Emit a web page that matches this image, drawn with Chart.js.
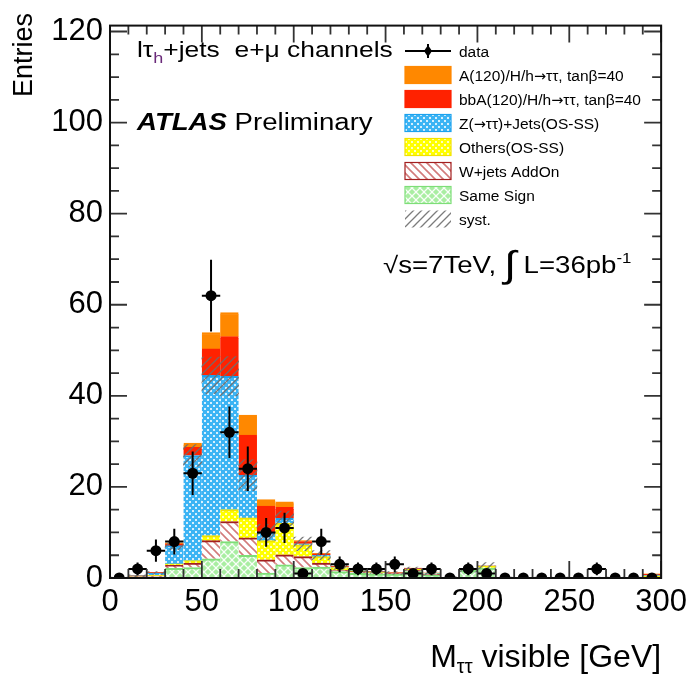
<!DOCTYPE html>
<html>
<head>
<meta charset="utf-8">
<script src="https://cdn.jsdelivr.net/npm/chart.js@4.4.0/dist/chart.umd.min.js"></script>
<style>
  html, body { margin: 0; padding: 0; background: #fff; }
</style>
</head>
<body>
<canvas id="mvisChart" width="693" height="677"></canvas>
<script>
const FONT = "'Liberation Sans', Arial, Helvetica, sans-serif";
const ARROW_FONT = "'DejaVu Sans', sans-serif";

// bin centres of the visible mass histogram [GeV], 10 GeV wide
const binCentres = [5, 15, 25, 35, 45, 55, 65, 75, 85, 95, 105, 115, 125, 135, 145,
  155, 165, 175, 185, 195, 205, 215, 225, 235, 245, 255, 265, 275, 285, 295];
const binHalfWidth = 5;

const dataCounts = [0, 2, 6, 8, 23, 62, 32, 24, 10, 11, 1, 8, 3, 2, 2,
  3, 1, 2, 0, 2, 1, 0, 0, 0, 0, 0, 2, 0, 0, 0];
const dataErrors = [0, 1.41, 2.45, 2.83, 4.8, 7.87, 5.66, 4.9, 3.16, 3.32, 1, 2.83, 1.73, 1.41, 1.41,
  1.73, 1, 1.41, 0, 1.41, 1, 0, 0, 0, 0, 0, 1.41, 0, 0, 0];

// stacked backgrounds + signal, bottom to top
const sameSign = [0, 0.2, 0.2, 2.1, 2.3, 4.2, 8.0, 5.0, 1.1, 2.9, 2.3, 2.4, 1.4, 1.0, 0.9,
  0.8, 1.4, 0.6, 0.1, 1.7, 2.2, 0.1, 0.1, 0.1, 0.1, 0.1, 0.1, 0.1, 0.1, 0.1];
const wjetsAddOn = [0, 0.1, 0.2, 0.7, 1.0, 4.0, 4.4, 3.8, 2.9, 2.2, 2.4, 0.9, 0.3, 0.4, 0.2,
  0.2, 0.3, 0.2, 0, 0, 0, 0, 0, 0, 0, 0, 0, 0, 0, 0.1];
const othersOsSs = [0.1, 0.1, 0.2, 0.3, 0.5, 1.1, 2.6, 4.4, 4.2, 6.9, 2.6, 1.4, 0.6, 0.2, 0.1,
  0.05, 0.2, 0.1, 0.05, 0.05, 0.4, 0, 0, 0, 0, 0, 0, 0, 0, 0.3];
const zTauTau = [0, 0.1, 0.5, 4.0, 23.1, 35.2, 29.3, 9.4, 1.8, 1.1, 0.2, 0.3, 0.1, 0.1, 0.15,
  0.05, 0.1, 0.1, 0, 0, 0, 0, 0, 0, 0, 0, 0, 0, 0, 0.1];
const bbAHiggs = [0, 0, 0.1, 0.4, 1.8, 5.8, 8.7, 8.8, 5.8, 2.4, 0.5, 0.3, 0.1, 0.15, 0.05,
  0.05, 0.15, 0.1, 0, 0.05, 0, 0, 0, 0, 0, 0, 0, 0, 0, 0.2];
const aHiggs = [0, 0, 0.05, 0.2, 0.9, 3.6, 5.3, 4.4, 1.4, 1.2, 0.2, 0.1, 0.1, 0.05, 0.05,
  0.05, 0.05, 0, 0, 0, 0, 0, 0, 0, 0, 0, 0, 0, 0, 0.1];

// systematic band around the background sum
const systLow = [0, 0.3, 0.8, 6.2, 24.5, 40.5, 40.0, 19.2, 8.2, 11.5, 6.0, 4.0, 1.9, 1.3, 1.0,
  0.8, 1.6, 0.7, 0, 1.3, 2.0, 0, 0, 0, 0, 0, 0, 0, 0, 0.4];
const systHigh = [0.2, 0.7, 1.4, 8.0, 29.3, 48.5, 48.6, 26.0, 11.8, 14.7, 9.0, 6.0, 2.9, 2.1, 1.7,
  1.4, 2.4, 1.3, 0.3, 2.3, 3.4, 0.2, 0.2, 0.2, 0.2, 0.2, 0.2, 0.2, 0.2, 0.8];

const xTickValues = [0, 50, 100, 150, 200, 250, 300];
const yTickValues = [0, 20, 40, 60, 80, 100, 120];
const xMinorStep = 10, xMajorStep = 50;
const yMinorStep = 5, yMajorStep = 20;

function makePattern(size, draw) {
  const c = document.createElement("canvas");
  c.width = size; c.height = size;
  const g = c.getContext("2d");
  draw(g, size);
  return g.createPattern(c, "repeat");
}

function diag(g, s, dir) {
  g.beginPath();
  if (dir === "down") {
    g.moveTo(0, 0); g.lineTo(s, s);
    g.moveTo(-1, s - 1); g.lineTo(1, s + 1);
    g.moveTo(s - 1, -1); g.lineTo(s + 1, 1);
  } else {
    g.moveTo(0, s); g.lineTo(s, 0);
    g.moveTo(-1, 1); g.lineTo(1, -1);
    g.moveTo(s - 1, s + 1); g.lineTo(s + 1, s - 1);
  }
  g.stroke();
}

const zPattern = makePattern(6, (g, s) => {
  g.fillStyle = "#3cb4f4"; g.fillRect(0, 0, s, s);
  g.fillStyle = "rgba(255,255,255,0.8)";
  g.fillRect(0, 0, 2, 2); g.fillRect(3, 3, 2, 2);
});
const othersPattern = makePattern(6, (g, s) => {
  g.fillStyle = "#ffff00"; g.fillRect(0, 0, s, s);
  g.fillStyle = "rgba(255,255,215,0.9)";
  g.fillRect(0, 0, 2, 2); g.fillRect(3, 3, 2, 2);
});
const ssPattern = makePattern(8, (g, s) => {
  g.fillStyle = "#a9eea2"; g.fillRect(0, 0, s, s);
  g.strokeStyle = "rgba(255,255,255,0.9)"; g.lineWidth = 1.3;
  diag(g, s, "down"); diag(g, s, "up");
});
const wjetsPattern = makePattern(8, (g, s) => {
  g.fillStyle = "#ffffff"; g.fillRect(0, 0, s, s);
  g.strokeStyle = "#d27b7b"; g.lineWidth = 1.6;
  diag(g, s, "down");
});
const systPattern = makePattern(8, (g, s) => {
  g.strokeStyle = "rgba(110,110,110,0.9)"; g.lineWidth = 1.3;
  diag(g, s, "up");
});

// every bar fills its whole 10 GeV bin; no side-by-side grouping
function stackSet(label, values, fill, edge) {
  return {
    type: "bar", label: label, data: values, xAxisID: "x", yAxisID: "y",
    grouped: false,
    backgroundColor: fill, borderColor: edge,
    borderWidth: { top: 2, left: 0, right: 0, bottom: 0 }, borderSkipped: false,
    barPercentage: 1, categoryPercentage: 1,
  };
}

// error bars of the data points, drawn just before the markers
const errorBars = {
  id: "errorBars",
  beforeDatasetDraw(chart, args) {
    if (args.index !== 0) return;
    const { ctx, scales: { xv, y } } = chart;
    ctx.save();
    ctx.strokeStyle = "#000";
    ctx.lineWidth = 2;
    binCentres.forEach((c, i) => {
      const py = y.getPixelForValue(dataCounts[i]);
      ctx.beginPath();
      ctx.moveTo(xv.getPixelForValue(c - binHalfWidth), py);
      ctx.lineTo(xv.getPixelForValue(c + binHalfWidth), py);
      if (dataErrors[i] > 0) {
        const px = xv.getPixelForValue(c);
        ctx.moveTo(px, y.getPixelForValue(dataCounts[i] - dataErrors[i]));
        ctx.lineTo(px, y.getPixelForValue(dataCounts[i] + dataErrors[i]));
      }
      ctx.stroke();
    });
    ctx.restore();
  },
};

// ROOT style frame with inward ticks on all four sides
const frameTicks = {
  id: "frameTicks",
  afterDatasetsDraw(chart) {
    const { ctx, chartArea: a, scales: { xv, y } } = chart;
    ctx.save();
    ctx.strokeStyle = "#333";
    ctx.lineWidth = 1.8;
    ctx.beginPath();
    for (let v = 0; v <= xv.max; v += xMinorStep) {
      const px = xv.getPixelForValue(v);
      const len = v % xMajorStep === 0 ? 17 : 9;
      ctx.moveTo(px, a.bottom); ctx.lineTo(px, a.bottom - len);
      ctx.moveTo(px, a.top); ctx.lineTo(px, a.top + len);
    }
    for (let v = 0; v <= 120; v += yMinorStep) {
      const py = y.getPixelForValue(v);
      const len = v % yMajorStep === 0 ? 17 : 9;
      ctx.moveTo(a.left, py); ctx.lineTo(a.left + len, py);
      ctx.moveTo(a.right, py); ctx.lineTo(a.right - len, py);
    }
    ctx.stroke();
    ctx.strokeStyle = "#111";
    ctx.lineWidth = 2;
    ctx.strokeRect(a.left, a.top, a.right - a.left, a.bottom - a.top);
    ctx.restore();
  },
};

function drawParts(ctx, parts, x, y, align, sx) {
  let total = 0;
  parts.forEach((p) => {
    ctx.font = `${p.style || ""} ${p.size}px ${p.family || FONT}`;
    p.w = ctx.measureText(p.t).width;
    total += p.w;
  });
  ctx.save();
  ctx.translate(x, y);
  ctx.scale(sx, 1);
  ctx.textBaseline = "alphabetic";
  ctx.textAlign = "left";
  let cx = align === "right" ? -total : 0;
  parts.forEach((p) => {
    ctx.font = `${p.style || ""} ${p.size}px ${p.family || FONT}`;
    ctx.fillStyle = p.color || "#000";
    ctx.fillText(p.t, cx, p.dy || 0);
    cx += p.w;
  });
  ctx.restore();
}

// split a legend label so the arrow comes from a font with a full-size glyph
function labelParts(text, size) {
  const parts = [];
  text.split("→").forEach((piece, i) => {
    if (i > 0) parts.push({ t: "→", size: size - 1, family: ARROW_FONT });
    if (piece) parts.push({ t: piece, size: size });
  });
  return parts;
}

const labelsAndLegend = {
  id: "labelsAndLegend",
  afterDraw(chart) {
    const ctx = chart.ctx;
    const a = chart.chartArea;

    // y axis title, ROOT puts it at the top end of the axis
    ctx.save();
    ctx.translate(25, 13);
    ctx.rotate(-Math.PI / 2);
    ctx.font = `27px ${FONT}`;
    ctx.fillStyle = "#000";
    ctx.textAlign = "right";
    ctx.textBaseline = "middle";
    ctx.fillText("Entries", 0, 0);
    ctx.restore();

    drawParts(ctx, [
      { t: "lτ", size: 22 }, { t: "h", size: 15, dy: 6, color: "#6a2a7a" },
      { t: "+jets  e+μ channels", size: 22 },
    ], 137, 57, "left", 1.2);
    drawParts(ctx, [
      { t: "ATLAS", size: 23, style: "italic bold" }, { t: " Preliminary", size: 23 },
    ], 137, 130, "left", 1.2);
    drawParts(ctx, [
      { t: "√s=7TeV, ", size: 23 }, { t: "∫", size: 37, dy: 4 },
      { t: " L=36pb", size: 23 }, { t: "-1", size: 14, dy: -10 },
    ], 383, 273, "left", 1.2);
    drawParts(ctx, [
      { t: "M", size: 32 }, { t: "ττ", size: 20, dy: 6 }, { t: " visible [GeV]", size: 32 },
    ], a.right, 667, "right", 1);

    // legend
    const ds = chart.data.datasets;
    const rows = [ds[0], ds[7], ds[6], ds[5], ds[4], ds[3], ds[2], ds[1]];
    const boxX = 405, boxW = 46, boxH = 17, textX = 459, rowTop = 51, rowStep = 24;
    ctx.save();
    rows.forEach((d, i) => {
      const cy = rowTop + i * rowStep;
      if (d.type === "scatter") {
        ctx.strokeStyle = "#000"; ctx.lineWidth = 2;
        ctx.beginPath();
        ctx.moveTo(boxX, cy); ctx.lineTo(boxX + boxW, cy);
        ctx.moveTo(boxX + boxW / 2, cy - 7); ctx.lineTo(boxX + boxW / 2, cy + 7);
        ctx.stroke();
        ctx.fillStyle = "#000";
        ctx.beginPath();
        ctx.moveTo(boxX + boxW / 2, cy - 6); ctx.lineTo(boxX + boxW / 2 + 4, cy);
        ctx.lineTo(boxX + boxW / 2, cy + 6); ctx.lineTo(boxX + boxW / 2 - 4, cy);
        ctx.closePath(); ctx.fill();
      } else {
        ctx.fillStyle = d.backgroundColor;
        ctx.fillRect(boxX, cy - boxH / 2, boxW, boxH);
        if (d.label !== "syst.") {
          ctx.strokeStyle = d.borderColor; ctx.lineWidth = 1.2;
          ctx.strokeRect(boxX, cy - boxH / 2, boxW, boxH);
        }
      }
      drawParts(ctx, labelParts(d.label, 15.5), textX, cy + 6, "left", 1);
    });
    ctx.restore();
  },
};

const ctx = document.getElementById("mvisChart").getContext("2d");

new Chart(ctx, {
  type: "bar",
  data: {
    labels: binCentres.map(String),
    datasets: [
      {
        type: "scatter", label: "data", xAxisID: "xv", yAxisID: "y",
        data: binCentres.map((c, i) => ({ x: c, y: dataCounts[i] })),
        backgroundColor: "#000", borderWidth: 0, pointRadius: 5.5, showLine: false,
      },
      {
        type: "bar", label: "syst.", xAxisID: "x", yAxisID: "y", stack: "syst", grouped: false,
        data: systLow.map((lo, i) => [lo, systHigh[i]]),
        backgroundColor: systPattern, borderWidth: 0,
        barPercentage: 1, categoryPercentage: 1,
      },
      stackSet("Same Sign", sameSign, ssPattern, "#7ede78"),
      stackSet("W+jets AddOn", wjetsAddOn, wjetsPattern, "#a31e1e"),
      stackSet("Others(OS-SS)", othersOsSs, othersPattern, "#f2e200"),
      stackSet("Z(→ττ)+Jets(OS-SS)", zTauTau, zPattern, "#1ca2ee"),
      stackSet("bbA(120)/H/h→ττ, tanβ=40", bbAHiggs, "#ff2200", "#ff2200"),
      stackSet("A(120)/H/h→ττ, tanβ=40", aHiggs, "#ff8800", "#ff8800"),
    ],
  },
  options: {
    responsive: false,
    animation: false,
    events: [],
    layout: { padding: { top: 16, right: 27, bottom: 0, left: 0 } },
    plugins: { legend: { display: false }, tooltip: { enabled: false } },
    scales: {
      x: { type: "category", display: false, stacked: true, offset: true },
      xv: {
        type: "linear", position: "bottom", min: 0, max: 300, offset: false,
        afterBuildTicks: (s) => { s.ticks = xTickValues.map((v) => ({ value: v })); },
        afterFit: (s) => { s.height = 99; },
        grid: { display: false, drawTicks: false },
        border: { display: false },
        ticks: { font: { family: FONT, size: 31 }, color: "#000", padding: 6, maxRotation: 0, autoSkip: false },
      },
      y: {
        min: 0, max: 121.3, stacked: true,
        afterBuildTicks: (s) => { s.ticks = yTickValues.map((v) => ({ value: v })); },
        afterFit: (s) => { s.width = 110; },
        grid: { display: false, drawTicks: false },
        border: { display: false },
        ticks: { font: { family: FONT, size: 31 }, color: "#000", padding: 7 },
      },
    },
  },
  plugins: [errorBars, frameTicks, labelsAndLegend],
});
</script>
</body>
</html>
